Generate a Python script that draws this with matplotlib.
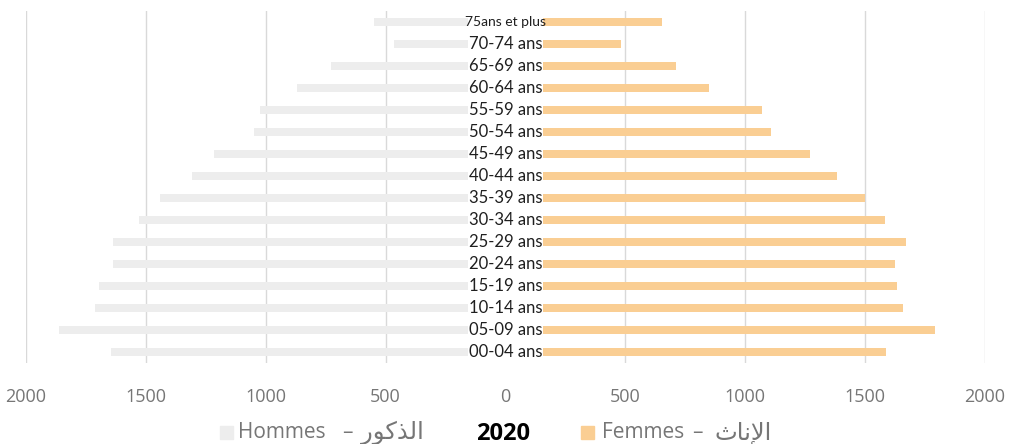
import matplotlib
matplotlib.use("Agg")
import matplotlib.pyplot as plt
from matplotlib.patches import Rectangle

# ---- data (top to bottom order as displayed) ----
age_groups = ["75ans et plus", "70-74 ans", "65-69 ans", "60-64 ans", "55-59 ans",
              "50-54 ans", "45-49 ans", "40-44 ans", "35-39 ans", "30-34 ans",
              "25-29 ans", "20-24 ans", "15-19 ans", "10-14 ans", "05-09 ans",
              "00-04 ans"]
hommes = [550, 467, 726, 868, 1025, 1050, 1215, 1306, 1439, 1529,
          1639, 1639, 1696, 1713, 1863, 1647]
femmes = [653, 482, 712, 849, 1070, 1106, 1272, 1381, 1499, 1582,
          1670, 1624, 1633, 1656, 1790, 1586]
x_ticks = [-2000, -1500, -1000, -500, 0, 500, 1000, 1500, 2000]
x_tick_labels = ["2000", "1500", "1000", "500", "0", "500", "1000", "1500", "2000"]
year_label = "2020"
# Arabic written in shaped presentation forms (visual order) so it renders joined
ar_hommes = "\uFEAD\uFEEE\uFEDB\uFEAC\uFEDF\uFE8D"   # الذكور
ar_femmes = "\uFE99\uFE8E\uFEE7\uFEF9\uFE8D"         # الإناث
fr_hommes = "Hommes"
fr_femmes = "Femmes"
dash = "\u2013"

C_H = "#EDEDED"
C_F = "#FACE93"
C_TXT = "#767676"

W, H = 1012, 444
fig = plt.figure(figsize=(W / 100, H / 100), dpi=100)
ax = fig.add_axes([26 / W, (H - 363) / H, (985 - 26) / W, (363 - 11) / H])

n = len(age_groups)
ypos = list(range(n - 1, -1, -1))
ax.barh(ypos, [-v for v in hommes], height=0.4, color=C_H, zorder=2)
ax.barh(ypos, femmes, height=0.4, color=C_F, zorder=2)

ax.axvspan(-158, 158, ymin=0.0, ymax=1.0, color="white", zorder=3, lw=0)

for y, lab in zip(ypos, age_groups):
    fs = 10.0 if lab.startswith("75") else 12
    ax.text(0, y, lab, ha="center", va="center", fontsize=fs, family="Lato",
            color="#1f1f1f", zorder=4)

ax.set_xlim(-2000, 2000)
ax.set_ylim(-0.5, n - 0.5)
ax.set_xticks(x_ticks)
ax.set_xticklabels(x_tick_labels)
ax.set_yticks([])
ax.tick_params(axis="x", length=0, pad=18, labelsize=13, labelcolor=C_TXT)
for t in ax.get_xticklabels():
    t.set_family("Open Sans")
ax.grid(axis="x", color="#D9D9D9", lw=1, zorder=1)
for s in ax.spines.values():
    s.set_visible(False)

# ---- legend ----
yl = 1 - 432 / H
leg_font = dict(va="center", color=C_TXT)
fig.patches.append(Rectangle((220 / W, 1 - 439 / H), 13 / W, 13 / H,
                             transform=fig.transFigure, color=C_H, figure=fig))
fig.text(238 / W, yl, fr_hommes, ha="left", family="Open Sans", fontsize=15, **leg_font)
fig.text(347 / W, yl, dash, ha="center", family="Open Sans", fontsize=15, **leg_font)
fig.text(392 / W, yl - 0.002, ar_hommes, ha="center", family="DejaVu Sans", fontsize=17.5,
         **leg_font)
fig.text(503 / W, 1 - 433.5 / H, year_label, ha="center", va="center", fontsize=17,
         fontweight="bold", color="black", family="Open Sans")
fig.patches.append(Rectangle((581 / W, 1 - 439 / H), 13 / W, 13 / H,
                             transform=fig.transFigure, color=C_F, figure=fig))
fig.text(602 / W, yl, fr_femmes, ha="left", family="Open Sans", fontsize=15, **leg_font)
fig.text(697 / W, yl, dash, ha="center", family="Open Sans", fontsize=15, **leg_font)
fig.text(743 / W, yl - 0.002, ar_femmes, ha="center", family="DejaVu Sans", fontsize=17.5,
         **leg_font)

fig.savefig("out.png", dpi=100)
